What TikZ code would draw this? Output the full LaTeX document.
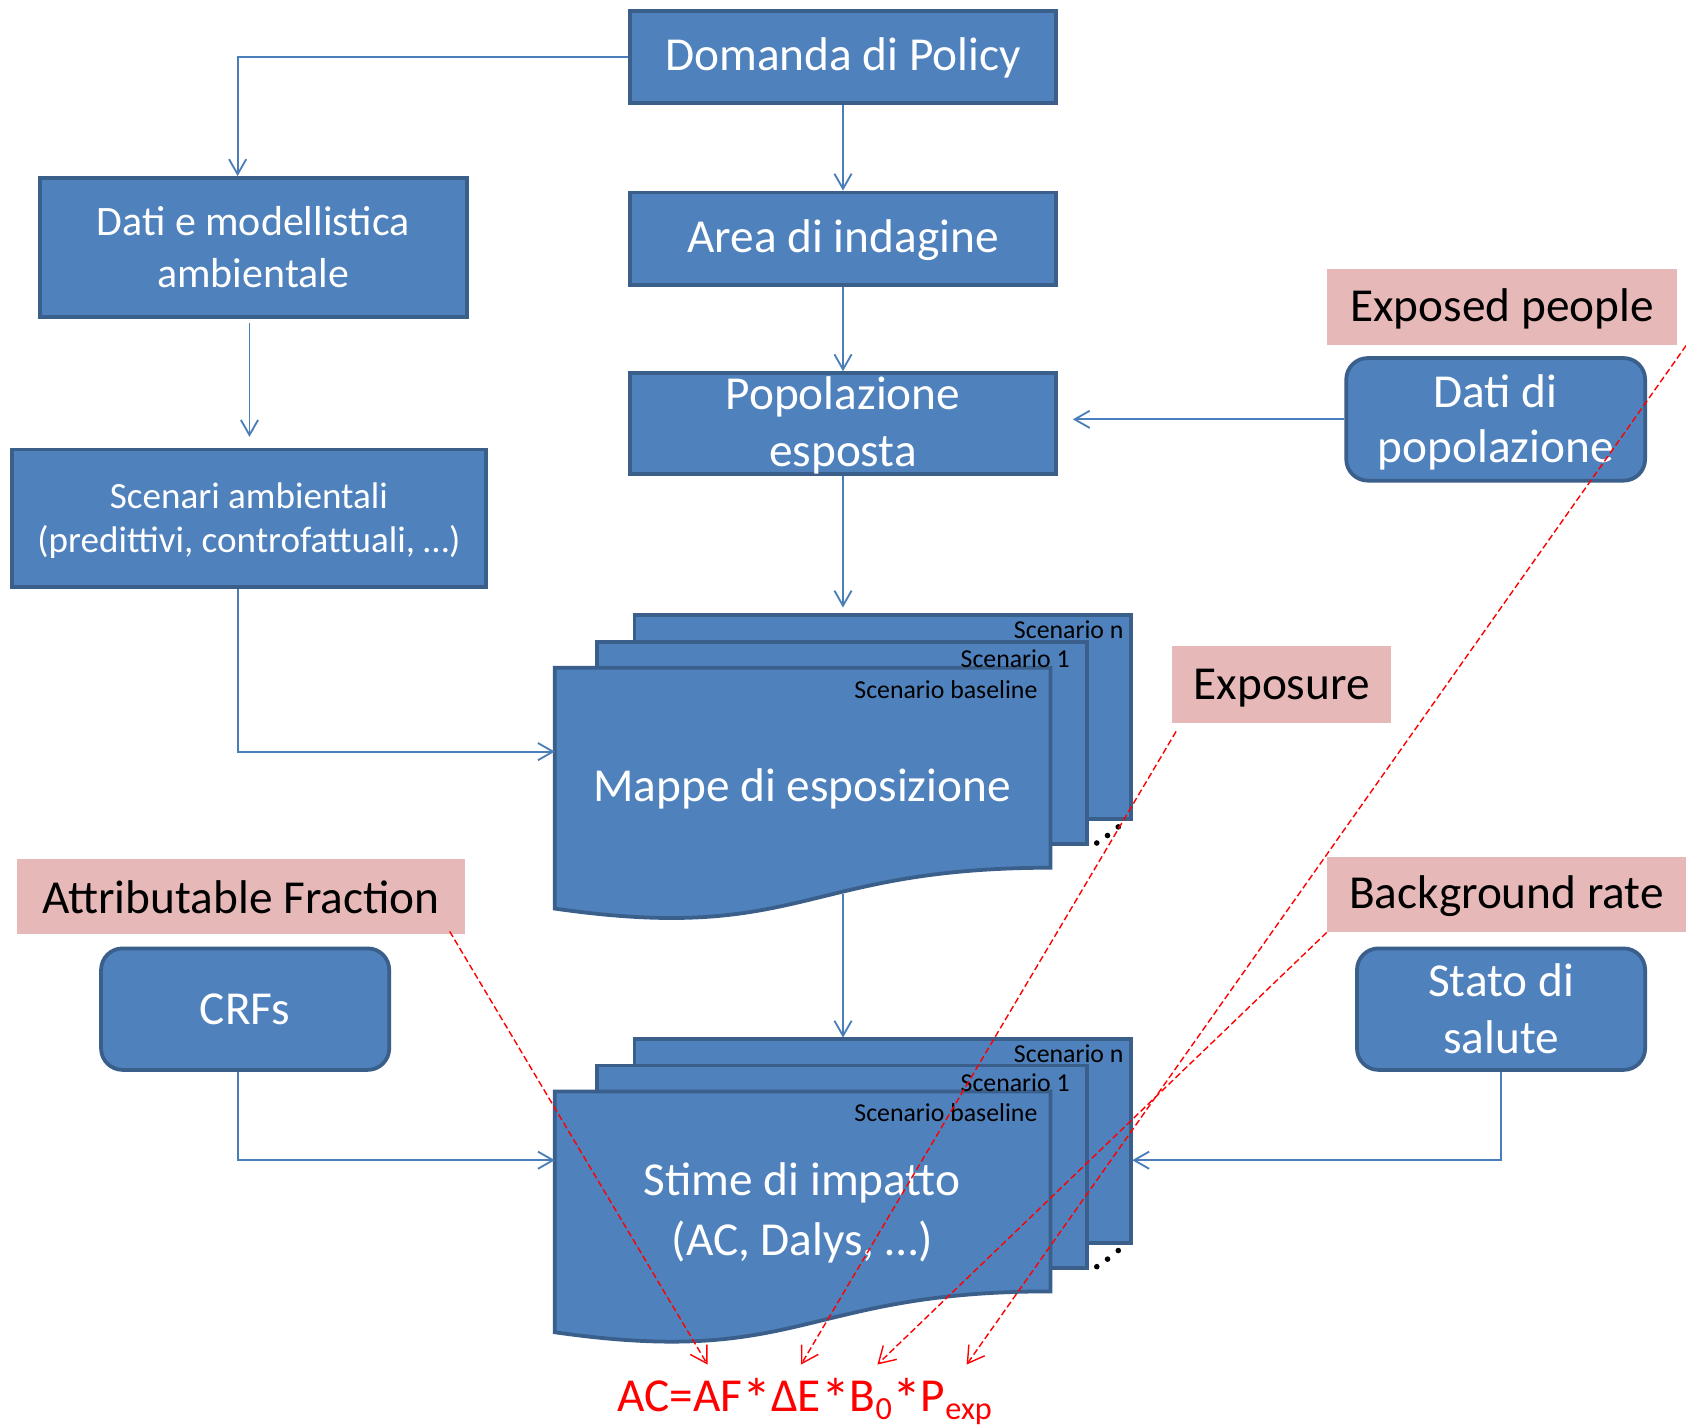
\documentclass[tikz,border=0pt]{standalone}
\usepackage{fontspec}
\setmainfont{Carlito}
\usetikzlibrary{arrows.meta,calc}

\definecolor{boxfill}{HTML}{4F81BD}
\definecolor{boxline}{HTML}{3A5F8B}
\definecolor{conn}{HTML}{4A7EBB}
\definecolor{tagfill}{HTML}{E6B9B8}

\newcommand\bigtxt{\fontsize{44}{53}\selectfont}
\newcommand\lowsub[1]{\raisebox{-7pt}{\fontsize{30}{30}\selectfont #1}}
\newcommand\mult{\raisebox{-7pt}{\fontsize{54}{54}\selectfont *}}

% a stack of three sheets (two flat pages behind a wavy-bottomed front page)
\newcommand\multidoc[2]{%
  \begin{scope}[shift={(0,#1)}]
    \draw[sheet] (590,572) rectangle (1052,762);
    \draw[sheet] (555,597) rectangle (1011,785);
    \draw[sheet] (516,621) -- (977,621) -- (977,807)
      .. controls (746,807) and (746,878) .. (516,845) -- cycle;
    \fill (1020,784) circle (2.6) (1030,777) circle (2.6) (1040,769) circle (2.6);
    \node[scenlbl] (#2n) at (1045,586) {Scenario n};
    \node[scenlbl] (#2one) at (995,613) {Scenario 1};
    \node[scenlbl] (#2base) at (965,641) {Scenario baseline};
  \end{scope}}

\begin{document}
\begin{tikzpicture}[x=1pt,y=-1pt,
  sheet/.style={draw=boxline, fill=boxfill, line width=3.5pt},
  box/.style={sheet, text=white, align=center, inner sep=0pt, font=\bigtxt},
  rbox/.style={box, rounded corners=20pt},
  tagbox/.style={fill=tagfill, text=black, inner sep=0pt, font=\bigtxt},
  flow/.style={draw=conn, line width=1.7pt, -{Straight Barb[length=14pt,width=16pt]}},
  refarrow/.style={draw=red, line width=1.3pt, dash pattern=on 6pt off 3pt,
    -{Straight Barb[length=15pt,width=18pt]}},
  scenlbl/.style={anchor=east, inner sep=0pt, text=black, font=\fontsize{24}{28}\selectfont},
]
\useasboundingbox (0,0) rectangle (1568,1328);
\fill[white] (0,0) rectangle (1568,1328);

% main boxes
\node[box, minimum width=396pt, minimum height=86pt, text depth=5pt] (dom) at (784,53) {Domanda di Policy};
\node[box, minimum width=396pt, minimum height=86pt, text depth=5pt] (area) at (784,222) {Area di indagine};
\node[box, minimum width=396pt, minimum height=94pt, text depth=3pt] (pop) at (784,394) {Popolazione\\esposta};
\node[box, minimum width=397pt, minimum height=129pt, font=\fontsize{39}{48}\selectfont]
  (dati) at (235.5,230) {Dati e modellistica\\ambientale};
\node[box, minimum width=441pt, minimum height=128pt, text depth=2pt, font=\fontsize{34.5}{41}\selectfont]
  (scen) at (231.5,482) {Scenari ambientali\\(predittivi, controfattuali, …)};
\node[rbox, minimum width=278pt, minimum height=114pt, text depth=2pt, font=\fontsize{44}{51}\selectfont]
  (dpop) at (1391,390) {Dati di\\popolazione};
\node[rbox, minimum width=268pt, minimum height=113pt] (crf) at (228,938.5) {CRFs};
\node[rbox, minimum width=268pt, minimum height=113pt] (stato) at (1396,938.5) {Stato di\\salute};

% labels
\node[tagbox, minimum width=326pt, minimum height=71pt, text depth=3pt] (tExp) at (1397,285.5) {Exposed people};
\node[tagbox, minimum width=204pt, minimum height=71pt, text depth=1pt] (tExposure) at (1192,636.5) {Exposure};
\node[tagbox, minimum width=416pt, minimum height=70pt] (tAF) at (224,834) {Attributable Fraction};
\node[tagbox, minimum width=334pt, minimum height=70pt, text depth=5pt] (tBG) at (1401,832) {Background rate};

% document stacks
\multidoc{0}{map}
\node[text=white, font=\bigtxt, inner sep=0pt, text depth=5pt] (mappe) at (746,733) {Mappe di esposizione};
\multidoc{394}{sti}
\node[text=white, font=\fontsize{44}{55}\selectfont, align=center, inner sep=0pt, text depth=5pt]
  (stime) at (746,1127) {Stime di impatto\\(AC, Dalys, …)};

% connector end points on the stacks
\coordinate (maptop) at (784,565);
\coordinate (mapleft) at (516,699);
\coordinate (mapbottom) at (784,831);
\coordinate (stitop) at (784,965);
\coordinate (stileft) at (516,1079);
\coordinate (stiright) at (1053,1079);

% formula
\node[anchor=base west, inner sep=0pt, text=red, font=\bigtxt] (formula) at (574,1313)
  {AC=AF\mult ΔE\mult B\lowsub{0}\mult P\lowsub{exp}};
\coordinate (tipAF) at (658,1269);
\coordinate (tipE) at (745,1269);
\coordinate (tipB) at (816,1269);
\coordinate (tipP) at (899,1269);

% flow connectors
\coordinate (popR) at ($(pop.east)+(14,0)$);
\coordinate (datiB) at ($(dati.south)+(-3.5,4)$);
\coordinate (scenT) at ($(scen.north)+(0,-10)$);
\draw[flow] (dom.west) -| ([xshift=-14.5pt]dati.north);
\draw[flow] (dom.south) -- (area.north);
\draw[flow] (area.south) -- (pop.north);
\draw[flow] (datiB) -- (datiB |- scenT);
\draw[flow] (pop.south) -- (maptop);
\draw[flow] (dpop.west) -- (popR |- dpop.west);
\draw[flow] ([xshift=-10.5pt]scen.south) |- (mapleft);
\draw[flow] (mapbottom) -- (stitop);
\draw[flow] ([xshift=-7pt]crf.south) |- (stileft);
\draw[flow] (stato.south) |- (stiright);

% references from the labels to the formula terms
\draw[refarrow] ([xshift=-14pt,yshift=3pt]tAF.south east) -- (tipAF);
\draw[refarrow] ([xshift=4pt,yshift=-8pt]tExposure.south west) -- (tipE);
\draw[refarrow] (tBG.south west) -- (tipB);
\draw[refarrow] ([xshift=8pt]tExp.south east) -- (tipP);
\end{tikzpicture}
\end{document}
